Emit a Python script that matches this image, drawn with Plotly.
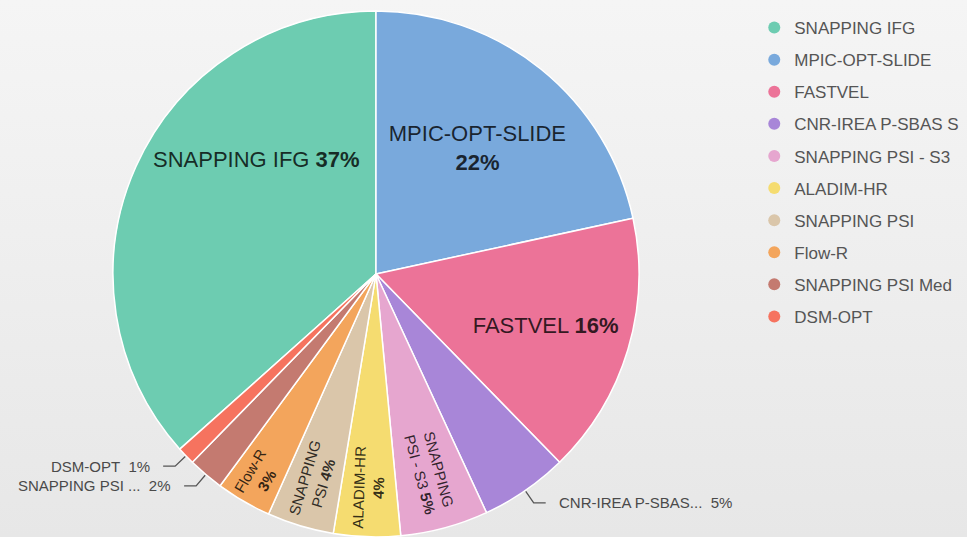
import math
import base64
import plotly.graph_objects as go

# Share of monitoring products, in percent (clockwise from SNAPPING IFG)
labels = ["SNAPPING IFG", "MPIC-OPT-SLIDE", "FASTVEL", "CNR-IREA P-SBAS S",
          "SNAPPING PSI - S3", "ALADIM-HR", "SNAPPING PSI", "Flow-R",
          "SNAPPING PSI Med", "DSM-OPT"]
values = [36.6, 21.6, 16.1, 5.4, 5.4, 4.1, 4.1, 3.4, 2.2, 1.1]
colors = ["#6dccb1", "#79a9dc", "#ec7398", "#a886d8", "#e6a6cf",
          "#f5dc70", "#dac6aa", "#f3a55c", "#c47a70", "#f6735f"]

# How each slice is labelled: horizontal inside, radial inside, outside,
# or a free annotation inside the slice
label_mode = ["a", "h", "h", "out", "r", "r", "r", "r", "out", "out"]
inside_names = ["SNAPPING IFG", "MPIC-OPT-SLIDE<br>", "FASTVEL", "",
                "SNAPPING<br>PSI - S3", "ALADIM-HR<br>", "SNAPPING<br>PSI",
                "Flow-R<br>", "", ""]
outside_names = ["", "", "", "CNR-IREA P-SBAS...", "", "", "", "",
                 "SNAPPING PSI ...", "DSM-OPT"]

W, H = 967, 537
CX, CY, R = 376, 274, 263          # pie centre and radius in pixels
FONT = "Liberation Sans, Arial, sans-serif"
TEXT_DARK = "rgba(0,0,0,0.8)"

total = sum(values)
pct = [round(100 * v / total) for v in values]
rotation = 360 * (1 - values[0] / total)

dom_x = [(CX - R) / W, (CX + R) / W]
dom_y = [(H - CY - R) / H, (H - CY + R) / H]


def label_for(i):
    name, p = inside_names[i], pct[i]
    if name.endswith("<br>"):
        return f"{name}<b>{p}%</b>"
    return f"{name} <b>{p}%</b>"


def inside_text(mode):
    return [label_for(i) if m == mode else "" for i, m in enumerate(label_mode)]


fig = go.Figure()

# Coloured slices with horizontal labels
fig.add_trace(go.Pie(
    labels=labels, values=values, sort=False, direction="clockwise",
    rotation=rotation, domain=dict(x=dom_x, y=dom_y),
    marker=dict(colors=colors, line=dict(color="#ffffff", width=1.5)),
    text=inside_text("h"), textinfo="text", textposition="inside",
    insidetextorientation="horizontal",
    textfont=dict(family=FONT, size=22, color=TEXT_DARK),
    showlegend=False, hoverinfo="label+percent",
))

# Transparent overlay carrying the radial labels of the narrow slices
fig.add_trace(go.Pie(
    labels=labels, values=values, sort=False, direction="clockwise",
    rotation=rotation, domain=dict(x=dom_x, y=dom_y),
    marker=dict(colors=["rgba(0,0,0,0)"] * len(values),
                line=dict(width=0)),
    text=inside_text("r"), textinfo="text", textposition="inside",
    insidetextorientation="radial",
    textfont=dict(family=FONT, size=15, color=TEXT_DARK),
    showlegend=False, hoverinfo="skip",
))


def px_to_paper(x, y):
    return x / W, 1 - y / H


shapes, annotations = [], []
cum = 0.0
for i, v in enumerate(values):
    start = rotation + 360 * cum / total
    span = 360 * v / total
    cum += v
    mode = label_mode[i]
    if mode == "a":
        # label sitting in the upper part of the wide slice
        ang = math.radians(start + 0.65 * span)
        lx = CX + 0.63 * R * math.sin(ang)
        ly = CY - 0.63 * R * math.cos(ang)
        ax, ay = px_to_paper(lx, ly)
        annotations.append(dict(
            x=ax, y=ay, xref="paper", yref="paper", showarrow=False,
            xanchor="center", yanchor="middle", text=label_for(i),
            font=dict(family=FONT, size=22, color=TEXT_DARK),
        ))
    elif mode == "out":
        # leader line and label outside the slice
        mid = math.radians(start + span / 2)
        sx, sy = math.sin(mid), -math.cos(mid)
        x0, y0 = CX + (R + 1) * sx, CY + (R + 1) * sy
        x1, y1 = CX + (R + 15) * sx, CY + (R + 15) * sy
        side = 1 if sx >= 0 else -1
        x2, y2 = x1 + side * 12, y1
        p0, p1, p2 = px_to_paper(x0, y0), px_to_paper(x1, y1), px_to_paper(x2, y2)
        shapes.append(dict(
            type="path", xref="paper", yref="paper",
            path=f"M {p0[0]},{p0[1]} L {p1[0]},{p1[1]} L {p2[0]},{p2[1]}",
            line=dict(color="#555555", width=1.3),
        ))
        tx, ty = px_to_paper(x2 + side * 11, y2)
        annotations.append(dict(
            x=tx, y=ty, xref="paper", yref="paper", showarrow=False,
            xanchor="left" if side > 0 else "right", yanchor="middle",
            text=f"{outside_names[i]}&nbsp;&nbsp;{pct[i]}%",
            font=dict(family=FONT, size=15, color="#4a4a4a"),
        ))

# Legend entries with round markers
for name, c in zip(labels, colors):
    fig.add_trace(go.Scatter(
        x=[None], y=[None], mode="markers", name=name, legendgroup=name,
        marker=dict(symbol="circle", size=11, color=c),
    ))

# Soft vertical background gradient
svg = ('<svg xmlns="http://www.w3.org/2000/svg" width="10" height="100" '
       'preserveAspectRatio="none"><defs><linearGradient id="g" x1="0" y1="0" '
       'x2="0" y2="1"><stop offset="0" stop-color="#f5f5f5"/>'
       '<stop offset="1" stop-color="#e7e7e7"/></linearGradient></defs>'
       '<rect width="10" height="100" fill="url(#g)"/></svg>')
bg_src = "data:image/svg+xml;base64," + base64.b64encode(svg.encode()).decode()

fig.update_layout(
    width=W, height=H,
    margin=dict(l=0, r=0, t=0, b=0),
    paper_bgcolor="#eeeeee", plot_bgcolor="rgba(0,0,0,0)",
    images=[dict(source=bg_src, xref="paper", yref="paper", x=0, y=1,
                 sizex=1, sizey=1, xanchor="left", yanchor="top",
                 sizing="stretch", layer="below")],
    xaxis=dict(visible=False), yaxis=dict(visible=False),
    shapes=shapes, annotations=annotations,
    showlegend=True,
    legend=dict(
        x=0.78, y=1 - 10 / H, xanchor="left", yanchor="top",
        font=dict(family=FONT, size=17, color="#555555"),
        bgcolor="rgba(0,0,0,0)", tracegroupgap=7, traceorder="grouped",
        itemsizing="constant",
    ),
)

fig.write_html("out.html")
